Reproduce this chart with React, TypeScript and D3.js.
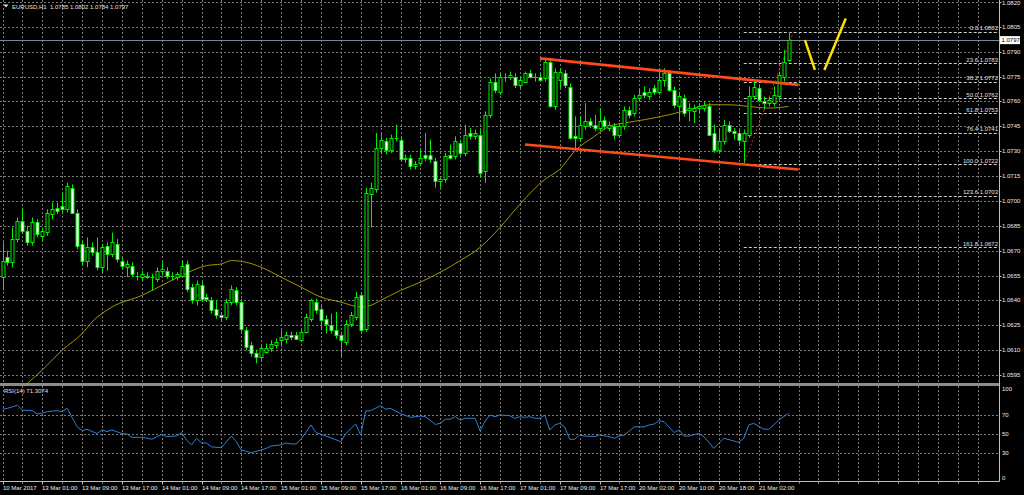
import React from "react";
import * as d3 from "d3";

// EURUSD H1 candles [open, high, low, close]
const ohlc: number[][] = [
  [1.0654, 1.0675, 1.0646, 1.0664], [1.0666, 1.067, 1.0661, 1.0663], [1.0663, 1.0684, 1.066, 1.0677],
  [1.0677, 1.069, 1.0675, 1.0688], [1.0688, 1.0696, 1.068, 1.0682], [1.0682, 1.0685, 1.0673, 1.0675],
  [1.0675, 1.069, 1.0673, 1.0687], [1.0687, 1.0689, 1.0678, 1.068], [1.0679, 1.0684, 1.0676, 1.0682],
  [1.0681, 1.0695, 1.0679, 1.0693], [1.0692, 1.0699, 1.0689, 1.0695], [1.0696, 1.0699, 1.0692, 1.0694],
  [1.0697, 1.0705, 1.0693, 1.0695], [1.0695, 1.0711, 1.0693, 1.0709], [1.0708, 1.071, 1.0692, 1.0693],
  [1.0693, 1.0695, 1.0671, 1.0673], [1.0674, 1.0676, 1.0661, 1.0664], [1.0664, 1.0678, 1.066, 1.0672],
  [1.0672, 1.0675, 1.0667, 1.0669], [1.0669, 1.0678, 1.0658, 1.066], [1.066, 1.0674, 1.0657, 1.0672],
  [1.0673, 1.0675, 1.0658, 1.0668], [1.0668, 1.0681, 1.0666, 1.0675], [1.0674, 1.0677, 1.0663, 1.0665],
  [1.0664, 1.0666, 1.0659, 1.0661], [1.066, 1.0664, 1.0654, 1.0662], [1.0661, 1.0663, 1.0654, 1.0656],
  [1.0655, 1.0657, 1.0652, 1.0655], [1.0654, 1.0658, 1.0652, 1.0656], [1.0655, 1.0657, 1.0653, 1.0654],
  [1.0654, 1.0656, 1.0646, 1.0654], [1.0653, 1.066, 1.0651, 1.0658], [1.0658, 1.0663, 1.0655, 1.0659],
  [1.0658, 1.066, 1.0653, 1.0655], [1.0655, 1.0657, 1.0652, 1.0655], [1.0654, 1.0657, 1.0652, 1.0656],
  [1.0655, 1.0664, 1.0654, 1.0661], [1.0662, 1.0664, 1.0645, 1.0647], [1.0648, 1.065, 1.0638, 1.064],
  [1.064, 1.0652, 1.0637, 1.065], [1.0649, 1.0651, 1.0639, 1.0641], [1.0642, 1.0644, 1.0639, 1.0641],
  [1.064, 1.0642, 1.0632, 1.0634], [1.0635, 1.064, 1.0629, 1.0631], [1.0631, 1.0633, 1.0627, 1.063],
  [1.063, 1.0641, 1.0628, 1.0639], [1.0639, 1.0649, 1.0637, 1.0647], [1.0646, 1.0648, 1.0637, 1.0639],
  [1.0639, 1.0641, 1.0621, 1.0623], [1.0622, 1.0624, 1.061, 1.0612], [1.0613, 1.0615, 1.0606, 1.0608],
  [1.0608, 1.061, 1.0602, 1.0606], [1.0606, 1.0613, 1.0603, 1.0611], [1.0609, 1.0614, 1.0608, 1.0611],
  [1.0611, 1.0616, 1.0609, 1.0614], [1.0613, 1.0617, 1.0611, 1.0615], [1.0616, 1.0622, 1.0612, 1.0618],
  [1.0617, 1.0621, 1.0614, 1.0619], [1.0619, 1.0621, 1.0616, 1.0618], [1.0619, 1.0621, 1.0616, 1.0617],
  [1.0616, 1.0623, 1.0615, 1.0621], [1.0621, 1.0632, 1.062, 1.063], [1.0629, 1.0641, 1.0627, 1.064],
  [1.0639, 1.0641, 1.0632, 1.0634], [1.0635, 1.0637, 1.0622, 1.0628], [1.0629, 1.0631, 1.062, 1.0626],
  [1.0625, 1.0632, 1.062, 1.0622], [1.0622, 1.0633, 1.0617, 1.0619], [1.0619, 1.0621, 1.0606, 1.0616],
  [1.0615, 1.0628, 1.0613, 1.0626], [1.0626, 1.0633, 1.0624, 1.0631], [1.063, 1.0645, 1.0628, 1.0642],
  [1.0643, 1.0645, 1.062, 1.0622], [1.0623, 1.0708, 1.0621, 1.0705], [1.0704, 1.0711, 1.0684, 1.0708],
  [1.0707, 1.0741, 1.0705, 1.0732], [1.0732, 1.0741, 1.0728, 1.0737], [1.0736, 1.0738, 1.0728, 1.0731],
  [1.0731, 1.074, 1.0729, 1.0738], [1.0738, 1.0746, 1.0736, 1.0738], [1.0737, 1.0739, 1.0724, 1.0725],
  [1.0726, 1.0728, 1.0723, 1.0725], [1.0726, 1.0728, 1.0719, 1.0721], [1.0721, 1.0724, 1.0719, 1.0722],
  [1.0723, 1.0731, 1.0721, 1.0726], [1.0728, 1.0741, 1.0724, 1.0726], [1.0728, 1.0737, 1.0723, 1.0725],
  [1.0724, 1.0726, 1.0708, 1.0712], [1.0712, 1.0714, 1.0708, 1.0713], [1.0713, 1.0729, 1.0711, 1.0727],
  [1.0728, 1.0734, 1.0725, 1.0726], [1.0727, 1.0739, 1.0725, 1.0736], [1.0735, 1.0737, 1.0727, 1.0729],
  [1.0729, 1.0746, 1.0727, 1.074], [1.0741, 1.0744, 1.0737, 1.0739], [1.0739, 1.0743, 1.0737, 1.0741],
  [1.074, 1.0743, 1.0714, 1.0717], [1.0718, 1.0754, 1.0711, 1.0752], [1.0752, 1.0774, 1.075, 1.0772],
  [1.0772, 1.0777, 1.0765, 1.0767], [1.0766, 1.0777, 1.0764, 1.0775], [1.0775, 1.0777, 1.0772, 1.0775],
  [1.0775, 1.0778, 1.0773, 1.0776], [1.0775, 1.0777, 1.0768, 1.077], [1.077, 1.0775, 1.0768, 1.0773],
  [1.0772, 1.0778, 1.0771, 1.0777], [1.0777, 1.0779, 1.0774, 1.0775], [1.0775, 1.0777, 1.0772, 1.0775],
  [1.0775, 1.0777, 1.0772, 1.0773], [1.0774, 1.0786, 1.0772, 1.0784], [1.0784, 1.0786, 1.0756, 1.0757],
  [1.0757, 1.078, 1.0755, 1.0778], [1.0773, 1.078, 1.0768, 1.0778], [1.0777, 1.0779, 1.0768, 1.077],
  [1.0769, 1.0771, 1.0737, 1.0738], [1.0739, 1.0751, 1.0731, 1.0738], [1.0738, 1.0751, 1.0736, 1.0746],
  [1.0745, 1.0759, 1.0743, 1.0748], [1.0748, 1.075, 1.0744, 1.0746], [1.0746, 1.0752, 1.0742, 1.0744],
  [1.0744, 1.0756, 1.0742, 1.0748], [1.0749, 1.0751, 1.0743, 1.0745], [1.0744, 1.0748, 1.0742, 1.0746],
  [1.0745, 1.0747, 1.0737, 1.074], [1.074, 1.0747, 1.0738, 1.0745], [1.0745, 1.0757, 1.0743, 1.0755],
  [1.0755, 1.0757, 1.075, 1.0752], [1.0753, 1.0764, 1.0751, 1.0762], [1.0762, 1.0767, 1.076, 1.0764],
  [1.0766, 1.0769, 1.0762, 1.0764], [1.0763, 1.0768, 1.0761, 1.0766], [1.0768, 1.077, 1.0764, 1.0766],
  [1.0766, 1.0779, 1.0764, 1.0773], [1.0773, 1.078, 1.0769, 1.0777], [1.0777, 1.0779, 1.0766, 1.0767],
  [1.0767, 1.0769, 1.0756, 1.0758], [1.0757, 1.0765, 1.0748, 1.0763], [1.0762, 1.0764, 1.0751, 1.0753],
  [1.0755, 1.0759, 1.0748, 1.0756], [1.0754, 1.0758, 1.0747, 1.0756], [1.0756, 1.0759, 1.0753, 1.0757],
  [1.0756, 1.076, 1.0754, 1.0758], [1.0757, 1.0759, 1.0739, 1.074], [1.0741, 1.0746, 1.0729, 1.0731],
  [1.0731, 1.0743, 1.0729, 1.0736], [1.0736, 1.0749, 1.0734, 1.0746], [1.0746, 1.0748, 1.0741, 1.0742],
  [1.0742, 1.0744, 1.0737, 1.0741], [1.0741, 1.0743, 1.0734, 1.0737], [1.0736, 1.0743, 1.0722, 1.0741],
  [1.074, 1.0769, 1.0738, 1.0763], [1.0763, 1.0772, 1.0761, 1.0769], [1.0768, 1.077, 1.076, 1.0761],
  [1.076, 1.0763, 1.0755, 1.0759], [1.0759, 1.0763, 1.0757, 1.0761], [1.0759, 1.0769, 1.0757, 1.0764],
  [1.0763, 1.0778, 1.0761, 1.0776], [1.0775, 1.0791, 1.0772, 1.0784], [1.0785, 1.0802, 1.0784, 1.0797],
];

// moving average: [bar, price]
const maPoints: number[][] = [
  [5, 1.059], [8, 1.0598], [12, 1.061], [16, 1.062], [18, 1.0627], [22, 1.0636], [28, 1.0643],
  [32, 1.0649], [36, 1.0655], [41, 1.0661], [44, 1.0662], [46, 1.0664], [49, 1.0663], [52, 1.066],
  [56, 1.0654], [60, 1.0648], [64, 1.0642], [68, 1.0639], [72, 1.0636], [74, 1.0637], [76, 1.064],
  [80, 1.0646], [84, 1.0651], [88, 1.0657], [92, 1.0664], [96, 1.0672], [100, 1.0684], [104, 1.0698],
  [109, 1.0713], [112, 1.0719], [115, 1.073], [119, 1.0739], [122, 1.0745], [125, 1.0747],
  [129, 1.0749], [134, 1.0752], [138, 1.0755], [142, 1.0758], [146, 1.0758], [150, 1.0757],
  [154, 1.0756], [158, 1.0757],
];

// RSI(14): [bar, value]
const rsiPoints: number[][] = [
  [0, 75.5], [1, 76.5], [3, 79.7], [4, 74.7], [6, 74], [7, 70.5], [8, 71.5], [9, 73], [11, 74], [12, 73],
  [13, 76.5], [15, 57], [16, 53], [17, 54.4], [19, 50], [20, 53.7], [21, 52], [22, 53.7], [24, 50],
  [25, 49.5], [26, 46], [28, 46], [30, 44], [32, 49], [33, 46.7], [35, 47.4], [36, 51], [37, 43], [38, 38],
  [39, 45], [40, 40], [41, 40], [42, 36], [44, 35], [46, 47.4], [47, 41.4], [48, 32.6], [50, 29.8],
  [52, 32.6], [53, 34.3], [54, 36.8], [56, 38], [57, 40], [58, 39], [59, 39], [60, 44], [62, 59], [63, 51],
  [65, 47.4], [68, 41.4], [69, 50], [71, 60], [72, 48.4], [73, 73.7], [74, 74], [76, 79.3], [77, 75.5],
  [78, 76.5], [80, 71], [82, 67], [84, 68.4], [85, 67.7], [87, 59.6], [88, 60.7], [89, 65], [90, 65],
  [91, 67.7], [92, 64], [93, 66], [95, 66], [96, 52.6], [97, 63], [98, 69.5], [99, 67.7], [100, 69.5],
  [102, 68.7], [103, 66], [104, 67.7], [105, 67], [106, 67.7], [107, 66], [108, 66], [109, 69.5],
  [110, 53.7], [111, 59], [112, 60.7], [113, 57], [114, 43.9], [115, 43.9], [116, 48.4], [117, 47.4],
  [119, 46.7], [120, 48.4], [122, 46.7], [123, 45], [124, 47.4], [125, 48.4], [127, 57], [129, 57],
  [130, 59], [131, 60], [132, 63.5], [133, 62.4], [135, 51], [136, 53.7], [137, 47.4], [138, 47.4],
  [140, 50], [141, 46.7], [143, 34.4], [145, 45], [148, 40.7], [149, 45], [150, 59], [151, 60.7],
  [153, 54.7], [154, 54.4], [155, 59], [156, 64], [158, 71.3],
];

const timeLabels = [
  "10 Mar 2017", "13 Mar 01:00", "13 Mar 09:00", "13 Mar 17:00", "14 Mar 01:00", "14 Mar 09:00",
  "14 Mar 17:00", "15 Mar 01:00", "15 Mar 09:00", "15 Mar 17:00", "16 Mar 01:00", "16 Mar 09:00",
  "16 Mar 17:00", "17 Mar 01:00", "17 Mar 09:00", "17 Mar 17:00", "20 Mar 02:00", "20 Mar 10:00",
  "20 Mar 18:00", "21 Mar 02:00",
];

const priceTicks = [
  1.082, 1.0805, 1.079, 1.0775, 1.076, 1.0745, 1.073, 1.0715, 1.07, 1.0685, 1.067, 1.0655, 1.064,
  1.0625, 1.061, 1.0595,
];
const rsiTicks = [100, 70, 50, 30, 0];
const rsiGrid = [70, 50, 30];

const fibRatios = ["0.0", "23.6", "38.2", "50.0", "61.8", "76.4", "100.0", "123.6", "161.8"];
const fibPrices = [1.0802, 1.0783, 1.0772, 1.0762, 1.0753, 1.0741, 1.0722, 1.0703, 1.0672];
const fibAnchor = [[149, 1.0722], [159, 1.0802]];

const channelUpper = [[108, 1.0786], [160, 1.077]];
const channelLower = [[105, 1.0734], [160, 1.0719]];
const forecastDown = [[161.3, 1.0797], [163.3, 1.0779]];
const forecastUp = [[165.2, 1.0779], [169.5, 1.081]];

const lastPrice = 1.0797;
const header = "EURUSD,H1  1.0785 1.0802 1.0784 1.0797";
const rsiHeader = "RSI(14) 71.3074";

const FONT = "'Liberation Sans', Arial, sans-serif";
const FS = 6;
const AXIS_X = 999.5;
const MAIN_BOTTOM = 383;
const RSI_TOP = 386;
const BOTTOM = 481.5;

const App = () => {
  const x = d3.scaleLinear().domain([0, 158]).range([2.5, 2.5 + 158 * 4.975]);
  const y = d3.scaleLinear().domain([1.0595, 1.082]).range([375, 2]);
  const yr = d3.scaleLinear().domain([0, 100]).range([481, 386]);
  const px = (i: number) => Math.round(x(i)) + 0.5;

  const maLine = d3
    .line<number[]>()
    .x((d) => x(d[0]))
    .y((d) => y(d[1]))
    .curve(d3.curveMonotoneX);
  const rsiLine = d3
    .line<number[]>()
    .x((d) => x(d[0]))
    .y((d) => yr(d[1]))
    .curve(d3.curveLinear);
  const seg = d3
    .line<number[]>()
    .x((d) => x(d[0]))
    .y((d) => y(d[1]));

  const gridBars = d3.range(0, 201, 4);
  const fibX0 = x(fibAnchor[0][0]);

  return (
    <div style={{ position: "fixed", left: 0, top: 0 }}>
      <svg width={1024} height={495} style={{ display: "block", background: "#000" }}>
        <defs>
          <clipPath id="mainClip">
            <rect x={0} y={0} width={AXIS_X} height={MAIN_BOTTOM} />
          </clipPath>
          <clipPath id="rsiClip">
            <rect x={0} y={RSI_TOP} width={AXIS_X} height={BOTTOM - RSI_TOP} />
          </clipPath>
        </defs>
        <rect x={0} y={0} width={1024} height={495} fill="#000" />

        {/* grid */}
        <g stroke="#7a7a7a" strokeWidth={1} strokeDasharray="2,2">
          {gridBars.map((b) =>
            x(b) < AXIS_X - 2 ? (
              <g key={"v" + b}>
                <line x1={px(b)} x2={px(b)} y1={0} y2={MAIN_BOTTOM} />
                <line x1={px(b)} x2={px(b)} y1={RSI_TOP} y2={BOTTOM + 3} />
              </g>
            ) : null
          )}
          {priceTicks.map((p) => (
            <line key={"h" + p} x1={0} x2={AXIS_X} y1={Math.round(y(p)) + 0.5} y2={Math.round(y(p)) + 0.5} />
          ))}
          {rsiGrid.map((v) => (
            <line key={"r" + v} x1={0} x2={AXIS_X} y1={Math.round(yr(v)) + 0.5} y2={Math.round(yr(v)) + 0.5} />
          ))}
        </g>

        <g clipPath="url(#mainClip)">
          {/* fibonacci levels */}
          <g stroke="#cfcfcf" strokeWidth={1} strokeDasharray="3,2">
            {fibPrices.map((p) => (
              <line key={"f" + p} x1={fibX0} x2={AXIS_X} y1={Math.round(y(p)) + 0.5} y2={Math.round(y(p)) + 0.5} />
            ))}
          </g>
          <g fill="#e0e0e0" fontFamily={FONT} fontSize={FS} textAnchor="end">
            {fibPrices.map((p, i) => (
              <text key={"ft" + p} x={AXIS_X - 1.5} y={y(p) - 1.5}>
                {fibRatios[i] + " " + p.toFixed(4)}
              </text>
            ))}
          </g>

          {/* last price line */}
          <line x1={0} x2={AXIS_X} y1={Math.round(y(lastPrice)) + 0.5} y2={Math.round(y(lastPrice)) + 0.5} stroke="#7a8898" strokeWidth={1} />

          {/* moving average */}
          <path d={maLine(maPoints) || ""} fill="none" stroke="#a39500" strokeWidth={1} />

          {/* candles */}
          {ohlc.map((d, i) => {
            const [o, h, l, c] = d;
            const cx = px(i);
            const top = Math.round(y(Math.max(o, c)));
            const bot = Math.round(y(Math.min(o, c)));
            const bear = c < o;
            return (
              <g key={"c" + i}>
                <line x1={cx} x2={cx} y1={y(h)} y2={y(l)} stroke="#00f000" strokeWidth={1} />
                <rect
                  x={cx - 1.5}
                  y={top + 0.5}
                  width={3}
                  height={Math.max(bot - top, 0.01)}
                  fill={bear ? "#ffffff" : "#000000"}
                  stroke="#00f000"
                  strokeWidth={1}
                />
              </g>
            );
          })}

          {/* channel */}
          <path d={seg(channelUpper) || ""} stroke="#ff4a1a" strokeWidth={2.6} fill="none" />
          <path d={seg(channelLower) || ""} stroke="#ff4a1a" strokeWidth={2.6} fill="none" />

          {/* fib trend line */}
          <path d={seg(fibAnchor) || ""} stroke="#c0281c" strokeWidth={1} strokeDasharray="2,2" fill="none" />

          {/* forecast strokes */}
          <path d={seg(forecastDown) || ""} stroke="#ffe000" strokeWidth={2.5} fill="none" />
          <path d={seg(forecastUp) || ""} stroke="#ffe000" strokeWidth={2.5} fill="none" />
        </g>

        {/* RSI */}
        <g clipPath="url(#rsiClip)">
          <path d={rsiLine(rsiPoints) || ""} fill="none" stroke="#2f7fd0" strokeWidth={1} />
        </g>

        {/* separator and axes */}
        <rect x={0} y={MAIN_BOTTOM} width={AXIS_X + 0.5} height={RSI_TOP - MAIN_BOTTOM} fill="#8c8c8c" />
        <line x1={AXIS_X} x2={AXIS_X} y1={0} y2={BOTTOM} stroke="#c0c0c0" strokeWidth={1} />
        <line x1={0} x2={AXIS_X} y1={BOTTOM} y2={BOTTOM} stroke="#c0c0c0" strokeWidth={1} />

        <g fill="#ececec" fontFamily={FONT} fontSize={FS}>
          {priceTicks.map((p) => (
            <g key={"pt" + p}>
              <line x1={AXIS_X} x2={AXIS_X + 2} y1={Math.round(y(p)) + 0.5} y2={Math.round(y(p)) + 0.5} stroke="#c0c0c0" />
              <text x={1002} y={Math.max(y(p), 3) + 2}>
                {p.toFixed(4)}
              </text>
            </g>
          ))}
          {rsiTicks.map((v) => (
            <text key={"rt" + v} x={1002} y={Math.min(Math.max(yr(v), 389), 478) + 2}>
              {v}
            </text>
          ))}
          {timeLabels.map((t, k) => (
            <g key={"tl" + t}>
              <line x1={px(k * 8)} x2={px(k * 8)} y1={BOTTOM} y2={BOTTOM + 3} stroke="#c0c0c0" />
              <text x={px(k * 8) - 0.5} y={489.5}>
                {t}
              </text>
            </g>
          ))}
        </g>

        {/* last price tag */}
        <rect x={1000} y={y(lastPrice) - 4} width={20} height={8} fill="#ffffff" />
        <text x={1001.5} y={y(lastPrice) + 2} fill="#000" fontFamily={FONT} fontSize={FS}>
          {lastPrice.toFixed(4)}
        </text>

        {/* headers */}
        <path d="M3.5,4.5 L8.5,4.5 L6,7.5 Z" fill="#e0e0e0" />
        <text x={12} y={8.5} fill="#e0e0e0" fontFamily={FONT} fontSize={FS} style={{ whiteSpace: "pre" }}>
          {header}
        </text>
        <text x={4} y={393} fill="#e0e0e0" fontFamily={FONT} fontSize={FS}>
          {rsiHeader}
        </text>
      </svg>
    </div>
  );
};

export default App;
